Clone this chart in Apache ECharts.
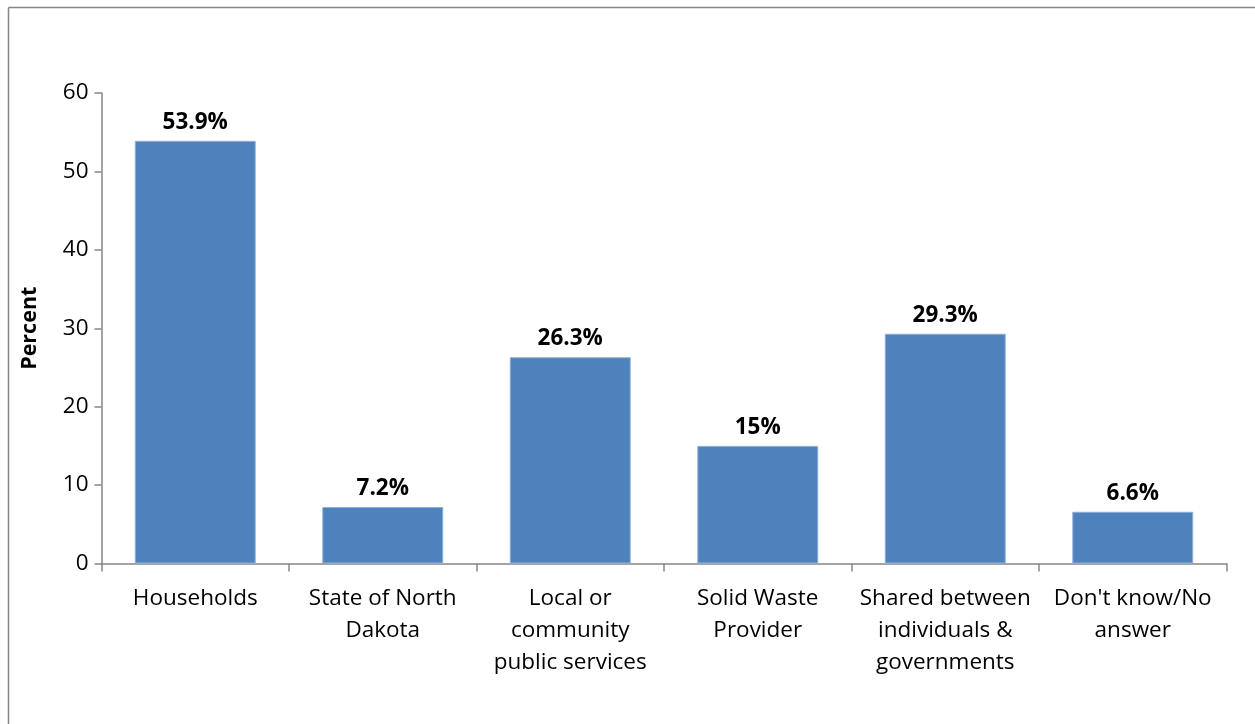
<!DOCTYPE html>
<html>
<head>
<meta charset="utf-8">
<script src="https://cdn.jsdelivr.net/npm/echarts@6/dist/echarts.min.js"></script>
<style>
  html, body { margin: 0; padding: 0; background: #fff; }
  #chart { width: 1255px; height: 724px; }
</style>
</head>
<body>
<div id="chart"></div>
<script>
// Who should be responsible for household waste
const categories = [
  'Households',
  'State of North\nDakota',
  'Local or\ncommunity\npublic services',
  'Solid Waste\nProvider',
  'Shared between\nindividuals &\ngovernments',
  "Don't know/No\nanswer"
];
const percents = [53.9, 7.2, 26.3, 15, 29.3, 6.6];
const valueLabels = ['53.9%', '7.2%', '26.3%', '15%', '29.3%', '6.6%'];
const yTicks = { min: 0, max: 60, interval: 10 };

const font = '"Open Sans", "Noto Sans", sans-serif';
const axisGray = '#868686';

const chart = echarts.init(document.getElementById('chart'), null, { renderer: 'canvas' });
chart.setOption({
  animation: false,
  backgroundColor: '#fff',
  textStyle: { fontFamily: font },
  graphic: [
    { type: 'line', shape: { x1: 8.5, y1: 7.5, x2: 8.5, y2: 724 }, style: { stroke: axisGray, lineWidth: 1.5 } },
    { type: 'line', shape: { x1: 8.5, y1: 7.5, x2: 1255, y2: 7.5 }, style: { stroke: axisGray, lineWidth: 1.5 } }
  ],
  grid: { left: 101.5, right: 28.5, top: 93, bottom: 160.5, containLabel: false },
  xAxis: {
    type: 'category',
    data: categories,
    axisLine: { lineStyle: { color: axisGray, width: 1.5 } },
    axisTick: { show: true, length: 8, lineStyle: { color: axisGray, width: 1.5 } },
    axisLabel: {
      interval: 0, color: '#000', fontSize: 22.5, lineHeight: 32, margin: 19,
      fontFamily: font
    }
  },
  yAxis: {
    type: 'value',
    min: yTicks.min, max: yTicks.max, interval: yTicks.interval,
    name: 'Percent',
    nameLocation: 'middle',
    nameGap: 61,
    nameTextStyle: { fontSize: 21.5, fontWeight: 'bold', color: '#000', fontFamily: font },
    splitLine: { show: false },
    axisLine: { show: true, lineStyle: { color: axisGray, width: 1.5 } },
    axisTick: { show: true, length: 7, lineStyle: { color: axisGray, width: 1.5 } },
    axisLabel: { color: '#000', fontSize: 22.5, margin: 13, fontFamily: font }
  },
  series: [{
    type: 'bar',
    data: percents,
    barWidth: '64.5%',
    itemStyle: { color: '#4F81BD', borderColor: '#8EB0DA', borderWidth: 1 },
    label: {
      show: true,
      position: 'top',
      distance: 7,
      fontSize: 22.5,
      fontWeight: 'bold',
      color: '#000',
      fontFamily: font,
      formatter: p => valueLabels[p.dataIndex]
    }
  }]
});
</script>
</body>
</html>
